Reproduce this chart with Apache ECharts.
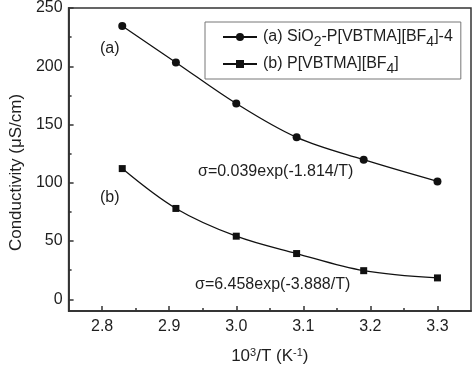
<!DOCTYPE html>
<html><head><meta charset="utf-8">
<script src="https://cdn.jsdelivr.net/npm/echarts@6/dist/echarts.min.js"></script>
<style>html,body{margin:0;padding:0;background:#fff}#c{width:474px;height:370px}</style>
</head><body><div id="c"></div>
<script>
const xValues = [2.83, 2.91, 3.00, 3.09, 3.19, 3.30];
const seriesA = [234.5, 203.3, 168.0, 139.0, 119.8, 101.2];
const seriesB = [112.2, 78.0, 54.2, 39.3, 24.6, 18.4];
const xMajor = [2.8, 2.9, 3.0, 3.1, 3.2, 3.3];
const xMinor = [2.85, 2.95, 3.05, 3.15, 3.25];
const yMajor = [0, 50, 100, 150, 200, 250];
const yMinor = [25, 75, 125, 175, 225];
const nameA = 'a';
const nameB = 'b';

const FONT = 'Liberation Sans';
const TXT = '#1e1e1e';
const AX = '#333';
const chart = echarts.init(document.getElementById('c'), null, {renderer: 'canvas'});

function xAxisBase(extra) {
  return Object.assign({
    type: 'value', min: 2.75, max: 3.35,
    axisLine: {show: true, onZero: false, lineStyle: {color: AX, width: 1.5}},
    splitLine: {show: false}
  }, extra);
}
function yAxisBase(extra) {
  return Object.assign({
    type: 'value', min: -10, max: 250,
    axisLine: {show: true, onZero: false, lineStyle: {color: AX, width: 1.5}},
    splitLine: {show: false}
  }, extra);
}

const option = {
  backgroundColor: '#fff',
  animation: false,
  textStyle: {fontFamily: FONT},
  grid: {left: 58, right: 3, top: 8, bottom: 55, show: true, borderColor: AX, borderWidth: 1.5},
  xAxis: [
    xAxisBase({
      name: '{n|10}{sup|3}{n|/T (K}{sup|-1}{n|)}',
      nameLocation: 'middle', nameGap: 36,
      nameTextStyle: {rich: {
        n: {fontSize: 17, color: TXT, fontFamily: FONT},
        sup: {fontSize: 11, color: TXT, fontFamily: FONT, verticalAlign: 'top', padding: [0, 0, 8, 0]}
      }},
      axisTick: {show: true, inside: true, length: 5, customValues: xMajor, lineStyle: {color: AX, width: 1.5}},
      axisLabel: {show: true, customValues: xMajor, margin: 8, fontSize: 16, color: TXT, fontFamily: FONT,
        formatter: v => v.toFixed(1)}
    }),
    xAxisBase({
      axisTick: {show: true, inside: true, length: 3, customValues: xMinor, lineStyle: {color: AX, width: 1.5}},
      axisLabel: {show: false}, position: 'bottom'
    })
  ],
  yAxis: [
    yAxisBase({
      name: 'Conductivity (μS/cm)', nameLocation: 'middle', nameGap: 43,
      nameTextStyle: {fontSize: 17, color: TXT, fontFamily: FONT, padding: [0, 26, 0, 0]},
      axisTick: {show: true, inside: true, length: 5, customValues: yMajor, lineStyle: {color: AX, width: 1.5}},
      axisLabel: {show: true, customValues: yMajor, margin: 6, fontSize: 16, color: TXT, fontFamily: FONT}
    }),
    yAxisBase({
      position: 'left',
      axisTick: {show: true, inside: true, length: 3, customValues: yMinor, lineStyle: {color: AX, width: 1.5}},
      axisLabel: {show: false}
    })
  ],
  legend: {
    left: 205, top: 22, orient: 'vertical',
    borderColor: '#777', borderWidth: 1, padding: [3, 8, 3, 17],
    itemWidth: 34, itemHeight: 10, itemGap: 3,
    data: [nameA, nameB],
    formatter: function (n) {
      if (n === nameA) return '{n|(a) SiO}{sub|2}{n|-P[VBTMA][BF}{sub|4}{n|]-4}';
      return '{n|(b) P[VBTMA][BF}{sub|4}{n|]}';
    },
    textStyle: {
      color: TXT, fontFamily: FONT, padding: [0, 0, 0, 1],
      rich: {
        n: {fontSize: 16, color: TXT, fontFamily: FONT, lineHeight: 26, verticalAlign: 'middle'},
        sub: {fontSize: 14, color: TXT, fontFamily: FONT, lineHeight: 26, verticalAlign: 'middle', padding: [10, 0, 0, 0]}
      }
    }
  },
  series: [
    {
      name: nameA, type: 'line', smooth: 0.35,
      data: xValues.map((x, i) => [x, seriesA[i]]),
      symbol: 'circle', symbolSize: 8,
      lineStyle: {color: '#111', width: 1.3}, itemStyle: {color: '#111'}
    },
    {
      name: nameB, type: 'line', smooth: 0.35,
      data: xValues.map((x, i) => [x, seriesB[i]]),
      symbol: 'rect', symbolSize: 7,
      lineStyle: {color: '#111', width: 1.3}, itemStyle: {color: '#111'}
    }
  ],
  graphic: [
    {type: 'text', left: 100, top: 41, style: {text: '(a)', font: '16px "Liberation Sans"', fill: TXT}},
    {type: 'text', left: 100, top: 190, style: {text: '(b)', font: '16px "Liberation Sans"', fill: TXT}},
    {type: 'text', left: 198, top: 164, style: {text: 'σ=0.039exp(-1.814/T)', font: '16px "Liberation Sans"', fill: TXT}},
    {type: 'text', left: 195, top: 277, style: {text: 'σ=6.458exp(-3.888/T)', font: '16px "Liberation Sans"', fill: TXT}}
  ]
};
chart.setOption(option);
</script></body></html>
